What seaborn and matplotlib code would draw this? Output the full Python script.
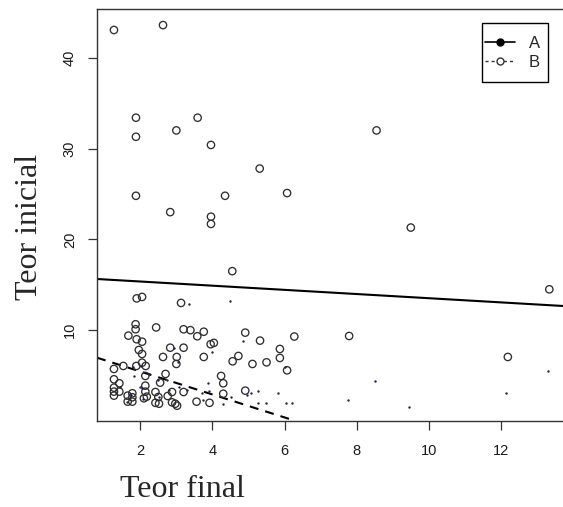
import matplotlib
matplotlib.use("Agg")
import matplotlib.pyplot as plt
import seaborn as sns
import pandas as pd
from matplotlib.lines import Line2D
from matplotlib.patches import Rectangle

# ---------------- data ----------------
# open circles
final_b = [1.27, 2.63, 1.88, 3.59, 3.00, 1.88, 3.96, 8.55, 5.31, 1.88, 4.35, 6.07,
           2.83, 3.96, 3.96, 9.50, 4.55, 13.34, 7.79, 12.19,
           1.90, 2.05, 3.13, 1.87, 1.87, 2.44, 3.20, 3.39, 3.76, 3.58, 4.91, 5.32,
           6.27, 3.95, 4.04, 5.87, 5.87, 6.07, 5.50, 5.11, 4.72, 4.56, 3.76, 3.20,
           2.83, 3.01, 3.00, 2.63, 1.67, 1.90, 2.05, 1.96, 2.05, 2.05, 1.89, 2.15,
           1.53, 1.27,
           1.27, 1.42, 1.27, 1.27, 1.27, 1.42, 1.65, 1.78, 1.78, 1.78, 1.65, 2.14,
           2.14, 2.14, 2.10, 2.18, 2.70, 2.55, 2.42, 2.50, 2.42, 2.52, 2.88, 2.88,
           2.76, 2.97, 3.02, 3.20, 3.56, 3.92, 4.24, 4.30, 4.30, 4.91]
inicial_b = [43.06, 43.6, 33.4, 33.4, 32.0, 31.3, 30.4, 32.0, 27.8, 24.8, 24.8, 25.1,
             23.0, 22.5, 21.7, 21.3, 16.5, 14.5, 9.36, 7.05,
             13.5, 13.66, 13.0, 10.65, 10.1, 10.3, 10.1, 10.0, 9.83, 9.33, 9.73, 8.85,
             9.3, 8.45, 8.6, 7.93, 6.94, 5.58, 6.46, 6.28, 7.16, 6.57, 7.05, 8.07,
             8.07, 7.05, 6.28, 7.05, 9.4, 9.0, 8.73, 7.82, 7.38, 6.42, 6.06, 6.06,
             6.06, 5.73,
             4.59, 4.15, 3.67, 3.23, 2.79, 3.23, 2.79, 3.05, 2.61, 2.13, 2.13, 4.96,
             3.89, 3.23, 2.50, 2.68, 5.18, 4.22, 3.19, 2.64, 2.00, 1.90, 3.19, 2.05,
             2.75, 1.90, 1.68, 3.19, 2.13, 2.00, 4.96, 4.15, 3.00, 3.34]

# tiny dots
final_a = [3.35, 4.49, 4.86, 4.00, 1.81, 1.83, 2.25, 2.06, 2.50, 2.75, 3.08, 3.29,
           3.89, 3.91, 3.70, 3.75, 4.30, 4.51, 4.95, 5.08, 5.27, 5.27, 5.48, 5.83,
           6.01, 6.04, 6.21, 1.64, 7.75, 8.51, 9.46, 12.15, 13.29,
           2.02, 2.00, 2.51, 2.79, 3.05, 2.94, 2.07, 1.45, 1.75]
inicial_a = [12.92, 13.25, 8.85, 7.63, 5.98, 4.96, 5.18, 3.60, 4.52, 4.52, 3.78, 3.41,
             4.15, 3.30, 3.05, 2.31, 1.84, 2.68, 2.86, 3.12, 3.30, 2.00, 2.00, 3.05,
             5.98, 2.00, 2.00, 2.13, 2.28, 4.37, 1.58, 3.05, 5.50,
             6.06, 3.78, 2.68, 3.41, 6.53, 8.00, 2.46, 3.70, 2.90]

# fitted lines (intercept, slope)
line_a = (15.82, -0.23)
line_b = (7.98, -1.265)

legend_labels = ["A", "B"]
x_ticks = [2, 4, 6, 8, 10, 12]
y_ticks = [10, 20, 30, 40]

df_b = pd.DataFrame({"final": final_b, "inicial": inicial_b})
df_a = pd.DataFrame({"final": final_a, "inicial": inicial_a})

# ---------------- plot ----------------
sns.set_style("white")
plt.rcParams["font.family"] = ["Liberation Sans", "DejaVu Sans"]

W, H = 563, 507
fig = plt.figure(figsize=(W / 100, H / 100), dpi=100)
left_px, right_px, top_px, bot_px = 97, 563, 9, 420.7
aw, ah = right_px - left_px, bot_px - top_px
ax = fig.add_axes([left_px / W, 1 - bot_px / H, aw / W, ah / H])


def ax_x(px):
    return (px - left_px) / aw


def ax_y(py):
    return (bot_px - py) / ah


sns.scatterplot(data=df_b, x="final", y="inicial", ax=ax, marker="o", s=28,
                facecolors="none", edgecolor="#2e2e2e", linewidth=0.95, zorder=3)
sns.scatterplot(data=df_a, x="final", y="inicial", ax=ax, marker="o", s=3,
                color="#22224a", linewidth=0, zorder=3)

ax.axline((0, line_a[0]), slope=line_a[1], color="black", lw=1.5, zorder=2)
ax.axline((0, line_b[0]), slope=line_b[1], color="black", lw=1.5,
          linestyle=(0, (4.3, 3.4)), zorder=2)

ax.set_xlim(0.80, 0.80 + aw / 36.07)
ax.set_ylim(0.03, 0.03 + ah / 9.08)
ax.set_xticks(x_ticks)
ax.set_yticks(y_ticks)

for side in ["left", "bottom", "top"]:
    ax.spines[side].set_color("#333333")
    ax.spines[side].set_linewidth(1.0)
ax.spines["right"].set_visible(False)

ax.tick_params(axis="both", direction="out", length=6.5, width=0.9, color="#333333",
               labelsize=10.5, labelcolor="#1a1a1a", left=True, bottom=True)
ax.tick_params(axis="x", pad=10.5)
ax.tick_params(axis="y", pad=8.0, labelrotation=90)
for lab in ax.get_yticklabels():
    lab.set_va("center")

ax.set_xlabel("Teor final", fontfamily=["Liberation Serif"], fontsize=23)
ax.set_ylabel("Teor inicial", fontfamily=["Liberation Serif"], fontsize=23)
ax.xaxis.label.set_va("baseline")
ax.xaxis.set_label_coords(ax_x(182.5), ax_y(497))
ax.yaxis.label.set_va("baseline")
ax.yaxis.set_label_coords(ax_x(37), ax_y(227))

# legend box (R-style square frame)
ax.add_patch(Rectangle((ax_x(481.7), ax_y(82)), ax_x(547.7) - ax_x(481.7),
                       ax_y(22.7) - ax_y(82), transform=ax.transAxes,
                       facecolor="white", edgecolor="black", lw=1.0, zorder=4))
handles = [
    Line2D([], [], color="black", lw=1.2, marker="o", markersize=5,
           markerfacecolor="black", markeredgecolor="black"),
    Line2D([], [], color="#333333", lw=1.0, linestyle=(0, (2.2, 2.2)), marker="o",
           markersize=5, markerfacecolor="white", markeredgecolor="#333333"),
]
leg = ax.legend(handles, legend_labels, loc="center",
                bbox_to_anchor=(ax_x(512.5), ax_y(53)),
                borderaxespad=0, fontsize=12, frameon=False,
                handlelength=1.8, handletextpad=0.84, labelspacing=0.25,
                borderpad=0)
leg.set_zorder(5)

fig.savefig("out.png", dpi=100)
